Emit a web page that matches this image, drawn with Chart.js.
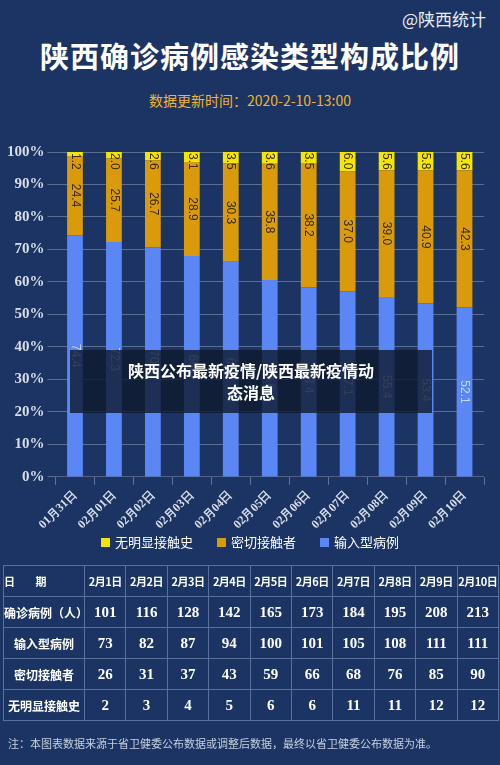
<!DOCTYPE html>
<html><head><meta charset="utf-8">
<script src="https://cdn.jsdelivr.net/npm/chart.js@4"></script>
<style>
body{margin:0;width:500px;height:765px;background:#1b3464;font-family:"Noto Sans CJK SC",sans-serif;color:#fff;position:relative;overflow:hidden}
#top{position:absolute;right:14px;top:6px;font-size:17px;color:#e8ecf5}
#title{position:absolute;left:0;width:500px;top:34px;text-align:center;font-size:29px;font-weight:bold;letter-spacing:1px}
#sub{position:absolute;left:0;width:500px;top:90px;text-align:center;font-size:14px;color:#f0b52a}
#box{position:absolute;left:0;top:140px;width:500px;height:395px}
#legend{position:absolute;top:532px;left:0;width:500px;text-align:center;font-size:13px}
#legend span{margin:0 12px}
#legend i{display:inline-block;width:9px;height:9px;margin-right:5px}
table{position:absolute;top:565px;left:3px;width:496px;border-collapse:collapse;font-weight:bold;table-layout:fixed}
td{border:1px solid #5a6f9a;height:30px;text-align:center;font-family:"Liberation Serif",serif;font-size:15px;white-space:nowrap;padding:0;overflow:hidden}
td.h{font-family:"Noto Sans CJK SC";font-size:12px;width:80px}
tr:first-child td{font-family:"Noto Sans CJK SC";font-size:11px;letter-spacing:-0.5px}
#note{position:absolute;top:735px;left:8px;font-size:11px;color:#c8d0e0}
#ov{position:absolute;left:70px;top:350px;width:362px;height:63px;background:rgba(15,25,45,0.8);text-align:center;font-size:16px;font-weight:bold;line-height:22px;padding-top:9px;box-sizing:border-box}
</style></head><body>
<div id="top">@陕西统计</div>
<div id="title">陕西确诊病例感染类型构成比例</div>
<div id="sub">数据更新时间：2020-2-10-13:00</div>
<div id="box"><canvas id="c"></canvas></div>
<div id="legend"><span><i style="background:#f5e600"></i>无明显接触史</span><span><i style="background:#d99a0b"></i>密切接触者</span><span><i style="background:#5b87f5"></i>输入型病例</span></div>
<table id="tb"></table>
<div id="note">注：本图表数据来源于省卫健委公布数据或调整后数据，最终以省卫健委公布数据为准。</div>
<div id="ov">陕西公布最新疫情/陕西最新疫情动<br>态消息</div>
<script>
const dates = ['01月31日','02月01日','02月02日','02月03日','02月04日','02月05日','02月06日','02月07日','02月08日','02月09日','02月10日'];
const imported = [74.4, 72.3, 70.7, 68.0, 66.2, 60.6, 58.4, 57.1, 55.4, 53.4, 52.1];
const contact = [24.4, 25.7, 26.7, 28.9, 30.3, 35.8, 38.2, 37.0, 39.0, 40.9, 42.3];
const unknown = [1.2, 2.0, 2.6, 3.1, 3.5, 3.6, 3.5, 6.0, 5.6, 5.8, 5.6];

const tableDays = ['2月1日','2月2日','2月3日','2月4日','2月5日','2月6日','2月7日','2月8日','2月9日','2月10日'];
const confirmedN = [101,116,128,142,165,173,184,195,208,213];
const importedN = [73,82,87,94,100,101,105,108,111,111];
const contactN = [26,31,37,43,59,66,68,76,85,90];
const unknownN = [2,3,4,5,6,6,11,11,12,12];

// 表格
const rows = [['日　　期'].concat(tableDays), ['确诊病例（人）'].concat(confirmedN), ['输入型病例'].concat(importedN), ['密切接触者'].concat(contactN), ['无明显接触史'].concat(unknownN)];
document.getElementById('tb').innerHTML = rows.map(r => '<tr>' + r.map((v, i) => '<td' + (i == 0 ? ' class="h" style="text-align:' + (r[0][0]=='日'?'left':'center') + '"' : '') + '>' + v + '</td>').join('') + '</tr>').join('');

// 竖排数值标签
const labelPlugin = {
    id: 'vlabels',
    afterDatasetsDraw(chart) {
        const ctx = chart.ctx;
        ctx.save();
        ctx.font = '12px "Liberation Sans"';
        chart.data.datasets.forEach((ds, di) => {
            chart.getDatasetMeta(di).data.forEach((bar, i) => {
                const txt = ds.data[i].toFixed(1);
                const w = ctx.measureText(txt).width;
                const start = di == 2 ? bar.y + 1 : (bar.y + bar.base) / 2 - w / 2;
                ctx.save();
                ctx.translate(bar.x, start);
                ctx.rotate(Math.PI / 2);
                ctx.fillStyle = di == 0 ? '#c9d6ff' : '#3a2a00';
                ctx.textAlign = 'left';
                ctx.textBaseline = 'middle';
                ctx.fillText(txt, 0, 0);
                ctx.restore();
            });
        });
        ctx.restore();
    }
};

new Chart(document.getElementById('c'), {
    type: 'bar',
    data: {
        labels: dates,
        datasets: [
            {label: '输入型病例', data: imported, backgroundColor: '#5b87f5'},
            {label: '密切接触者', data: contact, backgroundColor: '#d99a0b'},
            {label: '无明显接触史', data: unknown, backgroundColor: '#f5e600'}
        ]
    },
    options: {
        responsive: true,
        maintainAspectRatio: false,
        animation: false,
        layout: {padding: {left: 4, right: 16, top: 2}},
        datasets: {bar: {categoryPercentage: 0.9, barPercentage: 0.45}},
        scales: {
            x: {
                stacked: true,
                grid: {color: 'rgba(170,180,200,0.5)', drawOnChartArea: false},
                ticks: {color: '#d8dde8', maxRotation: 45, minRotation: 45, font: {family: 'Liberation Serif', size: 12, weight: 'bold'}}
            },
            y: {
                stacked: true,
                min: 0, max: 100,
                ticks: {stepSize: 10, color: '#d8dde8', callback: v => v + '%', font: {family: 'Liberation Serif', size: 15, weight: 'bold'}},
                grid: {color: 'rgba(170,180,200,0.45)'},
                border: {display: false}
            }
        },
        plugins: {legend: {display: false}, tooltip: {enabled: false}}
    },
    plugins: [labelPlugin]
});
</script>
</body></html>
